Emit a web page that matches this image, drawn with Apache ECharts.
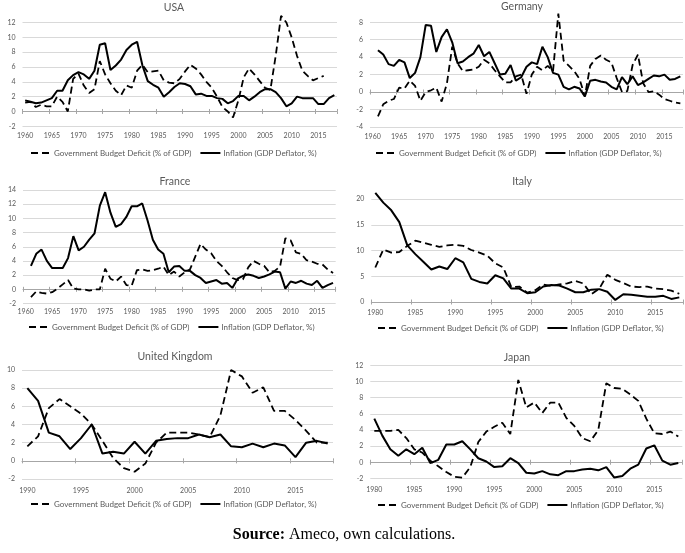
<!DOCTYPE html>
<html><head><meta charset="utf-8">
<script src="https://cdn.jsdelivr.net/npm/echarts@6/dist/echarts.min.js"></script>
<style>html,body{margin:0;padding:0;background:#fff}#c{width:685px;height:553px}</style>
</head><body><div id="c"></div>
<script>
const DEF = 'Government Budget Deficit (% of GDP)';
const INF = 'Inflation (GDP Deflator, %)';

const years1960 = [1960,1961,1962,1963,1964,1965,1966,1967,1968,1969,1970,1971,1972,1973,1974,1975,1976,1977,1978,1979,1980,1981,1982,1983,1984,1985,1986,1987,1988,1989,1990,1991,1992,1993,1994,1995,1996,1997,1998,1999,2000,2001,2002,2003,2004,2005,2006,2007,2008,2009,2010,2011,2012,2013,2014,2015,2016,2017,2018];
const years1980 = [1980,1981,1982,1983,1984,1985,1986,1987,1988,1989,1990,1991,1992,1993,1994,1995,1996,1997,1998,1999,2000,2001,2002,2003,2004,2005,2006,2007,2008,2009,2010,2011,2012,2013,2014,2015,2016,2017,2018];
const years1990 = [1990,1991,1992,1993,1994,1995,1996,1997,1998,1999,2000,2001,2002,2003,2004,2005,2006,2007,2008,2009,2010,2011,2012,2013,2014,2015,2016,2017,2018];

const usaDef = [1.2,1.3,0.6,0.9,0.7,0.7,2.0,1.3,0.0,4.4, 5.1,3.5,2.5,3.0,6.8,5.0,3.8,2.8,2.2,3.5, 3.2,5.5,6.3,5.3,5.4,5.5,4.2,3.9,3.8,4.4, 5.4,6.3,5.8,5.0,4.0,3.2,2.0,0.6,0.0,-0.8, 1.5,4.6,5.8,5.0,4.1,3.2,2.9,7.5,12.9,12.0, 10.0,7.5,5.5,4.8,4.2,4.5,4.8,null,null];
const usaInf = [1.5,1.3,1.1,1.2,1.5,1.8,2.8,2.8,4.2,4.9, 5.3,5.0,4.4,5.5,9.0,9.2,5.6,6.2,7.0,8.3, 9.0,9.4,6.2,4.1,3.6,3.2,2.0,2.6,3.3,3.8, 3.7,3.4,2.3,2.4,2.1,2.1,1.8,1.7,1.1,1.4, 2.1,2.1,1.5,2.0,2.6,3.0,3.0,2.6,1.8,0.7, 1.1,2.0,1.8,1.8,1.8,1.0,1.0,1.8,2.2];

const gerDef = [null,-2.8,-1.4,-1.0,-0.8,0.5,0.4,1.3,0.7,-1.0, 0.0,0.2,0.5,-1.1,1.0,5.2,3.3,2.4,2.5,2.6, 2.9,3.7,3.3,2.5,1.8,1.1,1.1,1.8,2.0,-0.2, 2.0,2.9,2.5,3.0,2.4,9.0,3.6,3.0,2.4,1.5, -0.5,3.0,3.8,4.2,3.7,3.4,1.6,0.0,0.1,3.1, 4.3,1.0,0.0,0.1,-0.3,-0.8,-1.0,-1.2,-1.3];
const gerInf = [null,4.8,4.3,3.2,3.0,3.7,3.4,1.6,2.2,4.0, 7.7,7.6,4.6,6.3,7.2,5.7,3.3,3.5,4.0,4.4, 5.4,4.1,4.6,3.3,2.0,2.1,3.1,1.3,1.7,2.9, 3.4,3.2,5.2,4.0,2.2,2.0,0.6,0.3,0.6,0.4, -0.5,1.3,1.4,1.2,1.1,0.6,0.3,1.7,0.9,1.8, 0.8,1.1,1.5,1.9,1.8,2.0,1.4,1.5,1.8];

const fraDef = [null,-1.1,-0.3,-0.5,-0.6,-0.4,0.1,0.7,1.3,0.1, 0.0,0.0,-0.2,0.0,0.0,2.9,1.5,1.1,1.8,0.6, 0.5,2.7,2.8,2.6,2.7,2.9,3.2,2.0,2.5,1.8, 2.4,2.8,4.6,6.4,5.6,5.1,4.0,3.3,2.4,1.6, 1.3,1.4,3.1,4.0,3.6,3.3,2.4,2.6,3.2,7.2, 6.9,5.2,5.0,4.1,3.9,3.6,3.5,2.8,2.3];
const fraInf = [null,3.3,5.0,5.6,4.0,3.0,3.0,3.0,4.4,7.5, 5.5,6.0,7.0,7.9,11.8,13.7,10.8,8.8,9.2,10.2, 11.7,11.7,12.1,9.7,7.0,5.6,5.0,2.4,3.2,3.3, 2.6,2.6,2.0,1.6,0.9,1.1,1.3,0.8,0.9,0.2, 1.5,1.9,2.1,1.9,1.6,1.8,2.1,2.5,2.4,0.1, 1.1,0.9,1.2,0.8,0.6,1.2,0.2,0.6,0.9];

const itaDef = [6.7,10.2,9.6,9.7,10.9,11.9,11.5,11.1,10.7,11.0, 11.1,10.9,10.1,9.6,9.0,7.5,6.7,2.9,3.0,1.8, 2.3,3.4,3.1,3.4,3.6,4.1,3.6,1.5,2.6,5.3, 4.3,3.7,3.0,2.9,3.0,2.6,2.5,2.2,1.6];
const itaInf = [21.2,19.3,17.8,15.5,11.0,9.3,7.8,6.3,6.9,6.4, 8.5,7.7,4.5,3.9,3.6,5.2,4.6,2.6,2.6,1.7, 1.9,3.0,3.3,3.2,2.6,1.9,1.9,2.4,2.5,2.0, 0.4,1.5,1.4,1.2,1.0,1.0,1.2,0.6,0.9];

const ukDef = [1.6,2.7,5.8,6.8,6.0,5.2,4.0,2.2,0.3,-0.8, -1.2,-0.3,2.0,3.1,3.1,3.1,2.9,2.6,5.0,10.0, 9.3,7.5,8.1,5.5,5.5,4.5,3.3,2.0,2.0];
const ukInf = [8.0,6.6,3.1,2.7,1.3,2.5,4.0,0.8,1.0,0.8, 2.1,0.8,2.2,2.4,2.5,2.5,2.9,2.6,2.9,1.6, 1.5,1.9,1.5,1.9,1.7,0.4,2.0,2.2,1.9];

const jpnDef = [3.9,3.9,3.9,4.0,3.0,1.6,1.2,0.2,-0.5,-1.2, -1.8,-1.9,-0.6,2.5,3.8,4.4,4.9,3.5,10.2,6.8, 7.4,6.1,7.4,7.4,5.5,4.5,3.0,2.6,4.0,9.8, 9.2,9.1,8.4,7.6,5.4,3.6,3.5,3.8,3.2];
const jpnInf = [5.4,3.3,1.6,0.8,1.6,1.0,1.8,-0.1,0.3,2.2, 2.2,2.6,1.6,0.5,0.1,-0.6,-0.5,0.5,-0.1,-1.3, -1.4,-1.1,-1.5,-1.6,-1.1,-1.1,-0.9,-0.8,-1.0,-0.6, -1.9,-1.7,-0.8,-0.3,1.7,2.1,0.2,-0.3,-0.1];

const panels = [
  {title:'USA', cats:years1960, def:usaDef, inf:usaInf, min:-2, max:12, step:2,
   grid:{left:22.5, top:22.5, width:314.5, height:103.8}, tx:174, ty:8, lx:30, ly:149, lm:6},
  {title:'Germany', cats:years1960, def:gerDef, inf:gerInf, min:-4, max:8, step:2,
   grid:{left:370, top:22.3, width:313, height:104.6}, tx:522, ty:7, lx:375, ly:149, lm:6},
  {title:'France', cats:years1960, def:fraDef, inf:fraInf, min:-2, max:14, step:2,
   grid:{left:23, top:190, width:312.7, height:113.5}, tx:175, ty:182, lx:28, ly:323, lm:5},
  {title:'Italy', cats:years1980, def:itaDef, inf:itaInf, min:0, max:20, step:5,
   grid:{left:371.3, top:199, width:312, height:103}, tx:522, ty:182, lx:377, ly:324, lm:7},
  {title:'United Kingdom', cats:years1990, def:ukDef, inf:ukInf, min:-2, max:10, step:2,
   grid:{left:22, top:370, width:311, height:109}, tx:175, ty:357, lx:30, ly:500, lm:8},
  {title:'Japan', cats:years1980, def:jpnDef, inf:jpnInf, min:-2, max:12, step:2,
   grid:{left:370.3, top:365.4, width:312, height:113}, tx:517, ty:358, lx:377, ly:501, lm:8}
];

const FONT = 'Lato';
const TXT = '#595959';
const AX = '#a6a6a6';
const option = {animation:false, backgroundColor:'#fff', grid:[], xAxis:[], yAxis:[], series:[], legend:[], graphic:[]};

panels.forEach((p, i) => {
  option.grid.push(Object.assign({containLabel:false}, p.grid));
  option.yAxis.push({type:'value', gridIndex:i, min:p.min, max:p.max, interval:p.step,
    axisLine:{show:false}, axisTick:{show:false},
    axisLabel:{fontSize:7, color:TXT, fontFamily:FONT, margin:7},
    splitLine:{lineStyle:{color:'#d9d9d9', width:1}}});
  option.xAxis.push({type:'category', gridIndex:i, data:p.cats, boundaryGap:true,
    axisLine:{show:false, onZero:false}, axisTick:{show:false},
    axisLabel:{interval:4, fontSize:7, color:TXT, fontFamily:FONT, margin:p.lm}});
  option.xAxis.push({type:'category', gridIndex:i, data:p.cats, boundaryGap:true,
    axisLine:{show:true, onZero:true, onZeroAxisIndex:i, lineStyle:{color:AX, width:1}},
    axisTick:{show:true, interval:4, length:2.5, lineStyle:{color:AX}},
    axisLabel:{show:false}});
  option.xAxis.push({type:'category', gridIndex:i, data:p.cats, boundaryGap:true,
    axisLine:{show:false, onZero:true, onZeroAxisIndex:i},
    axisTick:{show:true, inside:true, interval:4, length:2.5, lineStyle:{color:AX}},
    axisLabel:{show:false}});
  option.series.push({type:'line', name:DEF, xAxisIndex:3*i, yAxisIndex:i, data:p.def,
    symbol:'none', clip:false, lineStyle:{color:'#000', width:1.8, type:[7,4]}, itemStyle:{color:'#000'}});
  option.series.push({type:'line', name:INF, xAxisIndex:3*i, yAxisIndex:i, data:p.inf,
    symbol:'none', clip:false, lineStyle:{color:'#000', width:2}, itemStyle:{color:'#000'}});
  option.legend.push({left:p.lx, top:p.ly, data:[DEF, INF], itemWidth:20, itemHeight:8, itemGap:8,
    selectedMode:false, padding:0, itemStyle:{opacity:0, borderWidth:0},
    textStyle:{fontSize:8, color:TXT, fontFamily:FONT, padding:[0,0,0,-2]}});
  option.graphic.push({type:'text', x:p.tx, y:p.ty,
    style:{text:p.title, fontSize:10.5, fontFamily:FONT, fill:TXT, align:'center', verticalAlign:'middle'}});
});

option.graphic.push({type:'text', x:344, y:535,
  style:{text:'{b|Source:} Ameco, own calculations.', fontSize:16, fontFamily:'Liberation Serif', fill:'#000',
    align:'center', verticalAlign:'middle',
    rich:{b:{fontWeight:'bold', fontSize:16, fontFamily:'Liberation Serif', fill:'#000'}}}});

const chart = echarts.init(document.getElementById('c'), null, {renderer:'canvas'});
chart.setOption(option);
</script>
</body></html>
